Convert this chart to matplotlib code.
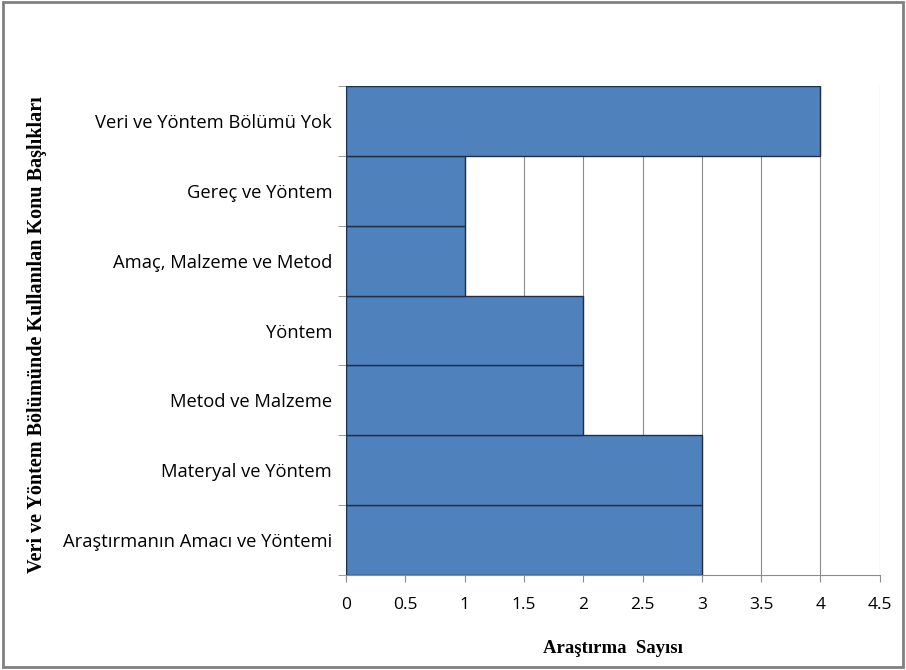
import matplotlib
matplotlib.use('Agg')
import matplotlib.pyplot as plt
import numpy as np

# Konu başlıkları (alttan üste) ve araştırma sayıları
categories = [
    'Araştırmanın Amacı ve Yöntemi',
    'Materyal ve Yöntem',
    'Metod ve Malzeme',
    'Yöntem',
    'Amaç, Malzeme ve Metod',
    'Gereç ve Yöntem',
    'Veri ve Yöntem Bölümü Yok',
]
counts = [3, 3, 2, 2, 1, 1, 4]
x_ticks = [0, 0.5, 1, 1.5, 2, 2.5, 3, 3.5, 4, 4.5]

bar_color = '#4F81BD'
edge_color = '#1F2F45'
grid_color = '#8C8C8C'

fig = plt.figure(figsize=(9.06, 6.7), dpi=100)
ax = fig.add_axes([0.382, 0.1418, 0.589, 0.7298])

pos = np.arange(len(categories))
ax.barh(pos, counts, height=1.0, color=bar_color, edgecolor=edge_color,
        linewidth=1.0, zorder=3)

ax.set_xlim(0, 4.5)
ax.set_ylim(-0.5, len(categories) - 0.5)
ax.set_xticks(x_ticks)
ax.set_xticklabels([f'{t:g}' for t in x_ticks], fontsize=12.5,
                   family='Open Sans')
ax.xaxis.grid(True, color=grid_color, linewidth=0.8, zorder=0)

# kategori sınırlarında tick, etiketler ortada
ax.set_yticks(pos)
ax.set_yticklabels(categories, fontsize=13.2, family='Open Sans')
ax.tick_params(axis='y', length=0, pad=10)
ax.set_yticks(np.arange(-0.5, len(categories)), minor=True)
ax.tick_params(axis='y', which='minor', length=6, color=grid_color)
ax.tick_params(axis='x', length=5, color=grid_color, pad=11)

for side in ['top', 'right']:
    ax.spines[side].set_visible(False)
for side in ['left', 'bottom']:
    ax.spines[side].set_color(grid_color)

ax.set_xlabel('Araştırma  Sayısı', fontsize=13.5, fontweight='bold',
              family='Liberation Serif', labelpad=19)
fig.text(0.041, 0.5, 'Veri ve Yöntem Bölümünde Kullanılan Konu Başlıkları',
         rotation=90, fontsize=14.5, fontweight='bold',
         family='Liberation Serif', ha='center', va='center')

# dış çerçeve
frame = plt.Rectangle((0.003, 0.004), 0.994, 0.993, transform=fig.transFigure,
                      fill=False, edgecolor='#808080', linewidth=2)
fig.patches.append(frame)

fig.savefig('out.png', dpi=100)
